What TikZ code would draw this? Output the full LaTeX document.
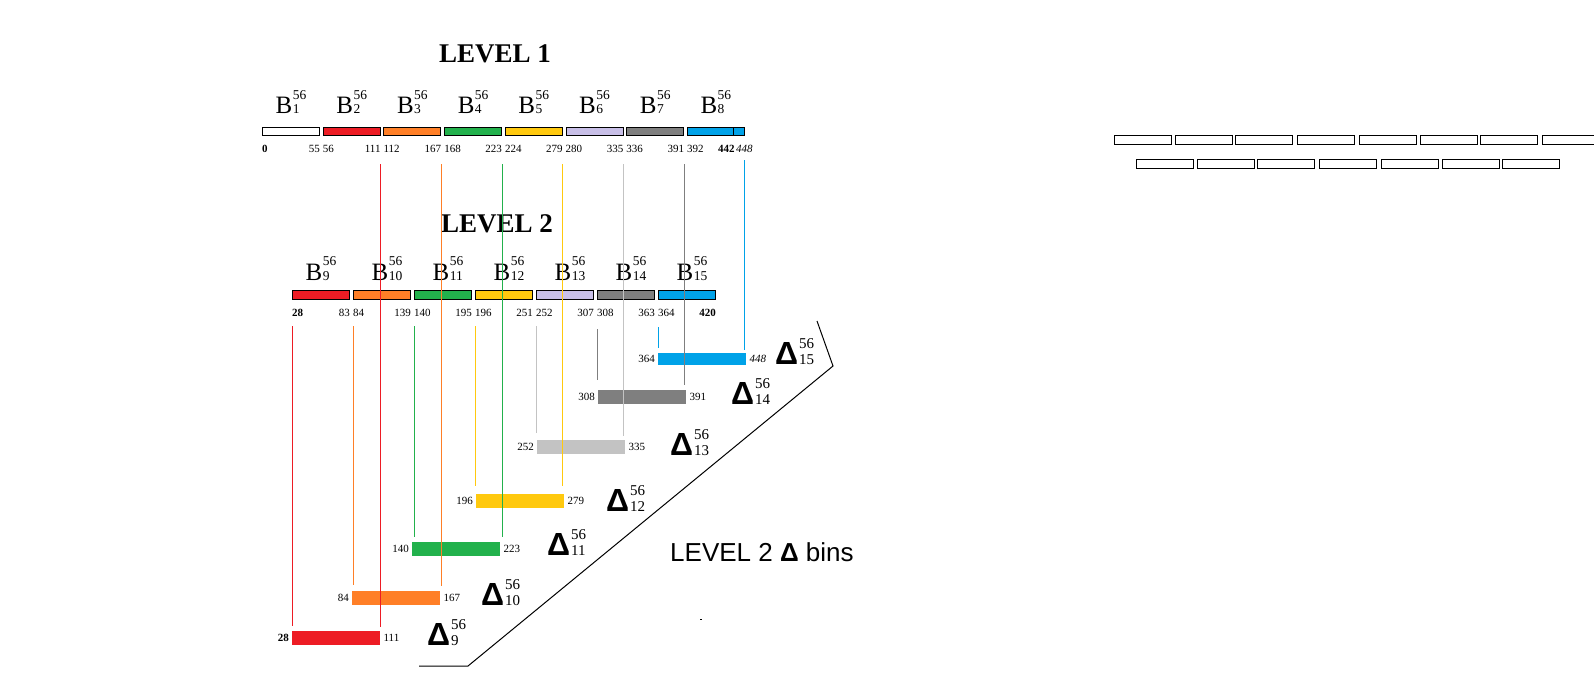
\documentclass[tikz,border=0pt]{standalone}
\usepackage{fontspec}
\setmainfont{Liberation Serif}
\newfontfamily\sansf{Liberation Sans}
\usepackage{tikz}
\usetikzlibrary{positioning}

\definecolor{cred}{HTML}{ED1C24}
\definecolor{corange}{HTML}{FF7F27}
\definecolor{cgreen}{HTML}{22B14C}
\definecolor{cyellow}{HTML}{FFC90E}
\definecolor{clav}{HTML}{C8BFE7}
\definecolor{cgray}{HTML}{7F7F7F}
\definecolor{clgray}{HTML}{C3C3C3}
\definecolor{cblue}{HTML}{00A2E8}

% bin name B with 56 on top and index below
\newcommand{\bin}[2][14]{\fontsize{25}{27}\selectfont B\hspace{0.5pt}{\fontsize{13.5}{#1}\selectfont\begin{tabular}[b]{@{}l@{}}56\\#2\end{tabular}}}
% delta bin name
\newcommand{\dlt}[1]{{\sansf\bfseries\fontsize{32}{34}\selectfont Δ}\hspace{1pt}{\fontsize{15}{16}\selectfont\begin{tabular}[b]{@{}l@{}}56\\#1\end{tabular}}}

\begin{document}
\begin{tikzpicture}[x=1pt, y=-1pt, node distance=2.7pt,
    bar/.style={draw, line width=1pt, rectangle, inner sep=0pt, minimum width=57pt, minimum height=8pt, anchor=north west},
    dbar/.style={rectangle, inner sep=0pt, minimum width=88pt, minimum height=14pt, anchor=north west},
    lbl/.style={font=\fontsize{11}{13}\selectfont, inner sep=0pt},
    lo/.style={label={[lbl, anchor=north west, yshift=-9pt]south west:#1}},
    hi/.style={label={[lbl, anchor=north east, yshift=-9pt]south east:#1}},
    ll/.style={label={[lbl, anchor=east, xshift=-3pt]west:#1}},
    rr/.style={label={[lbl, anchor=west, xshift=3pt]east:#1}},
    bname/.style={inner sep=0pt, anchor=base},
    dname/.style={inner sep=0pt, anchor=base west},
    vl/.style={line width=0.9pt}]

        \useasboundingbox (0,0) rectangle (1594,697);

        % Level 1
        \node[font=\bfseries\fontsize{27}{30}\selectfont, inner sep=0pt, anchor=base] (lev1) at (495,62) {LEVEL 1};
        \node[bar, fill=white, lo={\textbf{0}}, hi=55] (B1) at (262,127) {};
        \node[bar, fill=cred, right=of B1, lo=56, hi=111] (B2) {};
        \node[bar, fill=corange, right=of B2, lo=112, hi=167] (B3) {};
        \node[bar, fill=cgreen, right=of B3, lo=168, hi=223] (B4) {};
        \node[bar, fill=cyellow, right=of B4, lo=224, hi=279] (B5) {};
        \node[bar, fill=clav, right=of B5, lo=280, hi=335] (B6) {};
        \node[bar, fill=cgray, right=of B6, lo=336, hi=391] (B7) {};
        \node[bar, fill=cblue, right=of B7, lo=392,
            label={[lbl, anchor=north east, yshift=-9pt, xshift=-10pt]south east:\textbf{442}},
            label={[lbl, anchor=north west, yshift=-9pt, xshift=-9pt]south east:\textit{448}}] (B8) {};
        \draw[line width=1pt] ([xshift=47pt]B8.north west) -- ([xshift=47pt]B8.south west);

        \node[bname] (b1) at ([yshift=14pt]B1.north) {\bin{1}};
        \node[bname] (b2) at ([yshift=14pt]B2.north) {\bin{2}};
        \node[bname] (b3) at ([yshift=14pt]B3.north) {\bin{3}};
        \node[bname] (b4) at ([yshift=14pt]B4.north) {\bin{4}};
        \node[bname] (b5) at ([yshift=14pt]B5.north) {\bin{5}};
        \node[bname] (b6) at ([yshift=14pt]B6.north) {\bin{6}};
        \node[bname] (b7) at ([yshift=14pt]B7.north) {\bin{7}};
        \node[bname] (b8) at ([yshift=14pt]B8.north) {\bin{8}};

        % Level 2
        \node[font=\bfseries\fontsize{27}{30}\selectfont, inner sep=0pt, anchor=base] (lev2) at (497,232) {LEVEL 2};
        \node[bar, minimum height=9pt, fill=cred, lo={\textbf{28}}, hi=83] (B9) at (292,290) {};
        \node[bar, minimum height=9pt, fill=corange, right=3pt of B9, lo=84, hi=139] (B10) {};
        \node[bar, minimum height=9pt, fill=cgreen, right=3pt of B10, lo=140, hi=195] (B11) {};
        \node[bar, minimum height=9pt, fill=cyellow, right=3pt of B11, lo=196, hi=251] (B12) {};
        \node[bar, minimum height=9pt, fill=clav, right=3pt of B12, lo=252, hi=307] (B13) {};
        \node[bar, minimum height=9pt, fill=cgray, right=3pt of B13, lo=308, hi=363] (B14) {};
        \node[bar, minimum height=9pt, fill=cblue, right=3pt of B14, lo=364, hi={\textbf{420}}] (B15) {};

        \node[bname] (b9) at ([yshift=10pt]B9.north) {\bin[15]{9}};
        \node[bname] (b10) at ([xshift=5pt, yshift=10pt]B10.north) {\bin[15]{10}};
        \node[bname] (b11) at ([xshift=5pt, yshift=10pt]B11.north) {\bin[15]{11}};
        \node[bname] (b12) at ([xshift=5pt, yshift=10pt]B12.north) {\bin[15]{12}};
        \node[bname] (b13) at ([xshift=5pt, yshift=10pt]B13.north) {\bin[15]{13}};
        \node[bname] (b14) at ([xshift=5pt, yshift=10pt]B14.north) {\bin[15]{14}};
        \node[bname] (b15) at ([xshift=5pt, yshift=10pt]B15.north) {\bin[15]{15}};

        % Level 2 delta bins
        \node[dbar, fill=cblue, minimum height=12pt, ll=364, rr={\textit{448}}] (D15) at (658,353) {};
        \node[dbar, fill=cgray, ll=308, rr=391] (D14) at (598,390) {};
        \node[dbar, fill=clgray, ll=252, rr=335] (D13) at (537,440) {};
        \node[dbar, fill=cyellow, ll=196, rr=279] (D12) at (476,494) {};
        \node[dbar, fill=cgreen, ll=140, rr=223] (D11) at (412,542) {};
        \node[dbar, fill=corange, ll=84, rr=167] (D10) at (352,591) {};
        \node[dbar, fill=cred, ll={\textbf{28}}, rr=111] (D9) at (292,631) {};

        \node[dname] (d15) at (775,364) {\dlt{15}};
        \node[dname] (d14) at (731,404) {\dlt{14}};
        \node[dname] (d13) at (670,455) {\dlt{13}};
        \node[dname] (d12) at (606,511) {\dlt{12}};
        \node[dname] (d11) at (547,555) {\dlt{11}};
        \node[dname] (d10) at (481,605) {\dlt{10}};
        \node[dname] (d9) at (427,645) {\dlt{9}};

        % lines from level 1 ends
        \draw[vl, cred, shorten >=4pt] ([yshift=-28pt]B2.south east) -- (B2.south east |- D9.north);
        \draw[vl, corange, shorten >=5pt] ([yshift=-28pt]B3.south east) -- (B3.south east |- D10.north);
        \draw[vl, cgreen, shorten >=5pt] ([yshift=-28pt]B4.south east) -- (B4.south east |- D11.north);
        \draw[vl, cyellow, shorten >=8pt] ([yshift=-28pt]B5.south east) -- (B5.south east |- D12.north);
        \draw[vl, clgray, shorten >=4pt] ([yshift=-28pt]B6.south east) -- (B6.south east |- D13.north);
        \draw[vl, cgray, shorten >=5pt] ([yshift=-28pt]B7.south east) -- (B7.south east |- D14.north);
        \draw[vl, cblue, shorten >=3pt] ([yshift=-24pt]B8.south east) -- (B8.south east |- D15.north);

        % lines from level 2 starts
        \draw[vl, cred, shorten >=5pt] ([yshift=-26pt]B9.south west) -- (B9.south west |- D9.north);
        \draw[vl, corange, shorten >=6pt] ([yshift=-26pt]B10.south west) -- (B10.south west |- D10.north);
        \draw[vl, cgreen, shorten >=5pt] ([yshift=-26pt]B11.south west) -- (B11.south west |- D11.north);
        \draw[vl, cyellow, shorten >=8pt] ([yshift=-26pt]B12.south west) -- (B12.south west |- D12.north);
        \draw[vl, clgray, shorten >=7pt] ([yshift=-26pt]B13.south west) -- (B13.south west |- D13.north);
        \draw[vl, cgray, shorten >=10pt] ([yshift=-29pt]B14.south west) -- (B14.south west |- D14.north);
        \draw[vl, cblue, shorten >=5pt] ([yshift=-27pt]B15.south west) -- (B15.south west |- D15.north);

        % frame and title of the delta bins
        \draw[line width=1pt] (419,666) -- (468,666) -- (833,366) -- (817,321);
        \node[font=\sansf\fontsize{26}{30}\selectfont, inner sep=0pt, anchor=base west] (lev2d) at (670,561) {LEVEL 2 {\bfseries Δ} bins};
        \fill (700,619) rectangle (702,620);

        % empty bins on the right
        \foreach \x in {1114,1175,1235,1297,1359,1420,1480,1542}
            \draw[line width=1pt] (\x,135) rectangle ++(57,9);
        \foreach \x in {1136,1197,1257,1319,1381,1442,1502}
            \draw[line width=1pt] (\x,159) rectangle ++(57,9);

\end{tikzpicture}
\end{document}
